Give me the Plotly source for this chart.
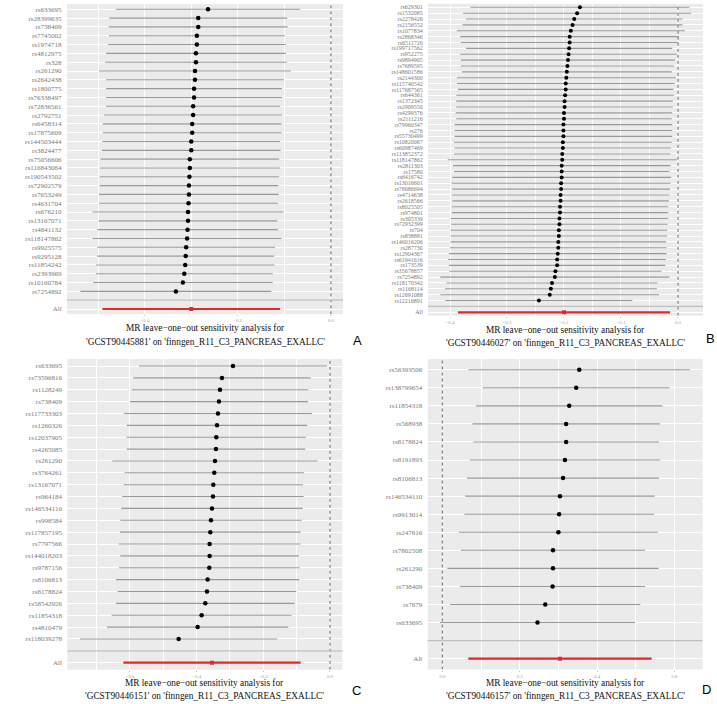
import plotly.graph_objects as go

outcome = "finngen_R11_C3_PANCREAS_EXALLC"

# ---------------- Panel A ----------------
exposure_A = "GCST90445881"
snps_A = ["rs633695", "rs28399635", "rs738409", "rs7745002", "rs1974718", "rs4812975", "rs328",
          "rs261290", "rs2642438", "rs1800775", "rs76338497", "rs72836561", "rs2792751", "rs6458314",
          "rs17875609", "rs144503444", "rs3824477", "rs75056606", "rs116843064", "rs190543502",
          "rs72902579", "rs7653249", "rs4631704", "rs676210", "rs13167071", "rs4841132",
          "rs118147862", "rs9925575", "rs9295128", "rs11854242", "rs2393969", "rs10160784", "rs7254892"]
b_A = [-0.264, -0.285, -0.285, -0.288, -0.288, -0.290, -0.290, -0.292, -0.292, -0.294, -0.294,
       -0.296, -0.296, -0.298, -0.298, -0.300, -0.300, -0.303, -0.303, -0.304, -0.305, -0.305,
       -0.306, -0.307, -0.307, -0.308, -0.309, -0.311, -0.312, -0.313, -0.315, -0.318, -0.333]
ci_A = [0.198, 0.191, 0.192, 0.189, 0.191, 0.193, 0.195, 0.206, 0.191, 0.189, 0.189,
        0.187, 0.191, 0.192, 0.192, 0.191, 0.192, 0.192, 0.193, 0.193, 0.192, 0.193,
        0.192, 0.205, 0.192, 0.194, 0.203, 0.191, 0.190, 0.192, 0.190, 0.193, 0.205]
all_A = (-0.300, 0.191)

# ---------------- Panel B ----------------
exposure_B = "GCST90446027"
snps_B = ["rs629301", "rs1532085", "rs2278426", "rs2156552", "rs1077834", "rs2868346", "rs6511720",
          "rs199717562", "rs952275", "rs9894905", "rs7689595", "rs148601586", "rs2144300",
          "rs115740542", "rs117687565", "rs644361", "rs1372345", "rs2909550", "rs4299376",
          "rs2111216", "rs79960347", "rs276", "rs55730499", "rs10820067", "rs60987469",
          "rs113852372", "rs118147862", "rs2811303", "rs17580", "rs6416742", "rs13016601",
          "rs76686694", "rs4714638", "rs2618566", "rs8025505", "rs974801", "rs305339",
          "rs72932399", "rs704", "rs838881", "rs146016206", "rs287730", "rs12904367",
          "rs61941616", "rs173539", "rs35678857", "rs7254892", "rs118170342", "rs1168114",
          "rs12691088", "rs12216891"]
b_B = [-0.172, -0.177, -0.182, -0.185, -0.188, -0.190, -0.190, -0.191, -0.192, -0.193,
       -0.194, -0.195, -0.196, -0.197, -0.197, -0.198, -0.199, -0.199, -0.200, -0.200,
       -0.201, -0.201, -0.201, -0.202, -0.202, -0.203, -0.203, -0.204, -0.204, -0.204,
       -0.205, -0.205, -0.206, -0.206, -0.207, -0.207, -0.208, -0.208, -0.209, -0.209,
       -0.210, -0.210, -0.211, -0.212, -0.212, -0.215, -0.216, -0.221, -0.223, -0.225,
       -0.244]
ci_B = [0.192, 0.200, 0.190, 0.193, 0.200, 0.192, 0.191, 0.181, 0.190, 0.188,
        0.187, 0.184, 0.192, 0.191, 0.189, 0.191, 0.190, 0.190, 0.190, 0.189,
        0.191, 0.191, 0.191, 0.191, 0.190, 0.190, 0.201, 0.191, 0.189, 0.192,
        0.192, 0.191, 0.191, 0.190, 0.190, 0.190, 0.191, 0.190, 0.190, 0.190,
        0.189, 0.190, 0.191, 0.191, 0.190, 0.186, 0.201, 0.185, 0.186, 0.192,
        0.164]
all_B = (-0.200, 0.186)

# ---------------- Panel C ----------------
exposure_C = "GCST90446151"
snps_C = ["rs633695", "rs73596816", "rs1128249", "rs738409", "rs117733303", "rs1260326",
          "rs12037905", "rs4265085", "rs261290", "rs3764261", "rs13167071", "rs964184",
          "rs146534110", "rs998584", "rs117857195", "rs7797566", "rs144018203", "rs9787156",
          "rs8106813", "rs8178824", "rs58542926", "rs11854318", "rs4810479", "rs118039278"]
b_C = [-0.291, -0.324, -0.330, -0.333, -0.336, -0.339, -0.341, -0.342, -0.345, -0.347,
       -0.350, -0.351, -0.354, -0.357, -0.359, -0.361, -0.361, -0.362, -0.367, -0.369,
       -0.374, -0.385, -0.397, -0.454]
ci_C = [0.282, 0.266, 0.265, 0.267, 0.282, 0.271, 0.269, 0.268, 0.308, 0.269,
        0.269, 0.272, 0.272, 0.272, 0.271, 0.273, 0.268, 0.271, 0.275, 0.268,
        0.268, 0.270, 0.272, 0.296]
all_C = (-0.354, 0.266)

# ---------------- Panel D ----------------
exposure_D = "GCST90446157"
snps_D = ["rs56393506", "rs138799654", "rs11854318", "rs568938", "rs8178824", "rs8191893",
          "rs8106813", "rs146534110", "rs9913014", "rs247616", "rs7802508", "rs261290",
          "rs738409", "rs7679", "rs633695"]
b_D = [0.354, 0.346, 0.328, 0.320, 0.320, 0.317, 0.312, 0.304, 0.302, 0.300,
       0.286, 0.286, 0.285, 0.266, 0.246]
ci_D = [0.286, 0.241, 0.241, 0.242, 0.240, 0.246, 0.248, 0.245, 0.245, 0.257,
        0.238, 0.273, 0.239, 0.246, 0.252]
all_D = (0.304, 0.237)

W, H = 717, 704

panels = [
    dict(snps=snps_A, b=b_A, ci=ci_A, all=all_A, exp=exposure_A, px=(67, 343), py=(4.0, 314.3),
         xr=(-0.567, 0.026), dt=0.2, mdt=0.1, yfs=7, ms=4.5, ty=(328.3, 341.5), letter=("A", 357, 340)),
    dict(snps=snps_B, b=b_B, ci=ci_B, all=all_B, exp=exposure_B, px=(428, 703), py=(3.8, 315.8),
         xr=(-0.4386, 0.0439), dt=0.1, mdt=0.05, yfs=6, ms=4, ty=(330.0, 343.0), letter=("B", 710, 338)),
    dict(snps=snps_C, b=b_C, ci=ci_C, all=all_C, exp=exposure_C, px=(67.3, 342.3), py=(358.9, 669.8),
         xr=(-0.788, 0.037), dt=0.2, mdt=0.1, yfs=7, ms=4.5, ty=(683.3, 696.0), letter=("C", 356.7, 690)),
    dict(snps=snps_D, b=b_D, ci=ci_D, all=all_D, exp=exposure_D, px=(427.7, 702.7), py=(358.9, 669.5),
         xr=(-0.0378, 0.673), dt=0.2, mdt=0.1, yfs=7, ms=4.5, ty=(683.3, 695.7), letter=("D", 706.7, 689)),
]

fig = go.Figure()
layout = dict(width=W, height=H, margin=dict(l=0, r=0, t=0, b=0, pad=0), showlegend=False,
              paper_bgcolor="white", plot_bgcolor="#EBEBEB")
shapes = []
annotations = []
serif = "Liberation Serif"

for k, p in enumerate(panels):
    sfx = "" if k == 0 else str(k + 1)
    xref, yref = "x" + sfx, "y" + sfx
    n = len(p["snps"])
    ypos = [n + 2 - i for i in range(n)]

    # dotted reference line at zero (drawn first, beneath the bars)
    fig.add_trace(go.Scatter(
        x=[0, 0], y=[0.4, n + 2.6], mode="lines", xaxis=xref, yaxis=yref,
        line=dict(color="#555555", width=0.9, dash="dot"), hoverinfo="skip"))
    fig.add_trace(go.Scatter(
        x=p["b"], y=ypos, mode="markers", xaxis=xref, yaxis=yref,
        marker=dict(color="black", size=p["ms"]),
        error_x=dict(type="data", array=p["ci"], symmetric=True, width=0,
                     color="#999999", thickness=1.1),
        hoverinfo="skip"))
    fig.add_trace(go.Scatter(
        x=[p["all"][0]], y=[1], mode="markers", xaxis=xref, yaxis=yref,
        marker=dict(color="#e8262a", size=4, symbol="square"),
        error_x=dict(type="data", array=[p["all"][1]], symmetric=True, width=0,
                     color="#e8262a", thickness=2.2),
        hoverinfo="skip"))

    x0, x1 = p["px"][0] / W, p["px"][1] / W
    y0, y1 = 1 - p["py"][1] / H, 1 - p["py"][0] / H
    layout["xaxis" + sfx] = dict(
        domain=[x0, x1], range=list(p["xr"]), anchor=yref, tick0=0, dtick=p["dt"],
        tickformat=".1f", showgrid=True, gridcolor="white", gridwidth=1.1, zeroline=False,
        minor=dict(dtick=p["mdt"], tick0=0, showgrid=True, gridcolor="white", gridwidth=0.5),
        ticks="outside", ticklen=1, tickcolor="#bbbbbb", tickwidth=0.6,
        tickfont=dict(family=serif, size=5, color="#a0a0a0"), showline=False, fixedrange=True)
    layout["yaxis" + sfx] = dict(
        domain=[y0, y1], range=[0.4, n + 2.6], anchor=xref,
        tickmode="array", tickvals=ypos + [2, 1], ticktext=p["snps"] + ["", "All"],
        showgrid=True, gridcolor="white", gridwidth=1.1, zeroline=False,
        ticks="outside", ticklen=3, tickcolor="rgba(0,0,0,0)",
        tickfont=dict(family=serif, size=p["yfs"], color="#7a7a7a"), showline=False, fixedrange=True)

    shapes.append(dict(type="line", xref=xref + " domain", yref=yref, x0=0, x1=1, y0=2, y1=2,
                       line=dict(color="#bebebe", width=1.3)))

    cx = (x0 + x1) / 2
    annotations.append(dict(text="MR leave\u2212one\u2212out sensitivity analysis for", xref="paper",
                            yref="paper", x=cx, y=1 - p["ty"][0] / H, showarrow=False,
                            xanchor="center", yanchor="middle",
                            font=dict(family=serif, size=9.3, color="#111111")))
    annotations.append(dict(text="'%s' on '%s'" % (p["exp"], outcome), xref="paper",
                            yref="paper", x=cx, y=1 - p["ty"][1] / H, showarrow=False,
                            xanchor="center", yanchor="middle",
                            font=dict(family=serif, size=9.3, color="#111111")))
    lt, lx, ly = p["letter"]
    annotations.append(dict(text=lt, xref="paper", yref="paper", x=lx / W, y=1 - ly / H,
                            showarrow=False, xanchor="center", yanchor="middle",
                            font=dict(family="Liberation Sans", size=13, color="black")))

layout["shapes"] = shapes
layout["annotations"] = annotations
fig.update_layout(**layout)
fig.write_html("out.html", config={"displayModeBar": False},
               post_script="document.body.style.margin='0px';document.body.style.padding='0px';")
